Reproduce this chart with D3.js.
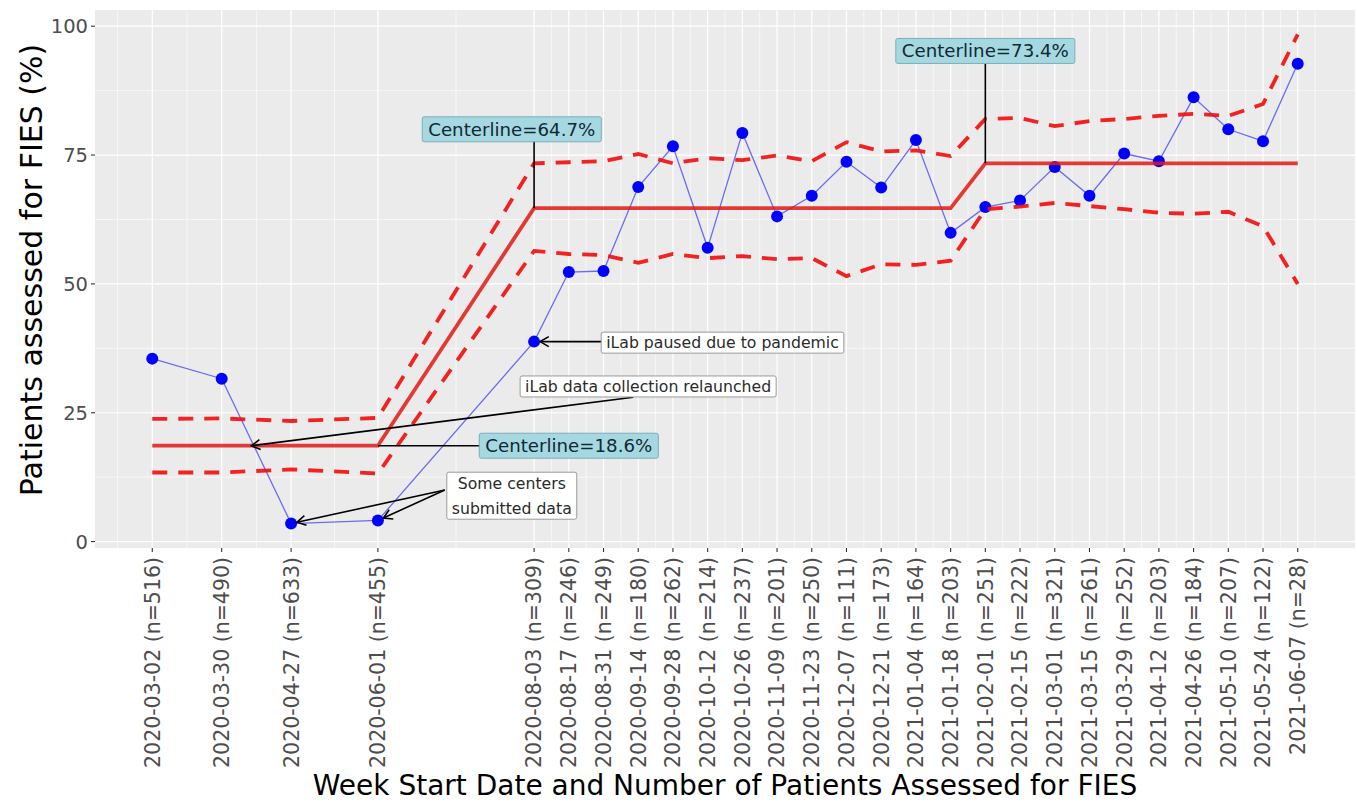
<!DOCTYPE html>
<html>
<head>
<meta charset="utf-8">
<script src="https://cdn.jsdelivr.net/npm/d3@7"></script>
<style>
  body { margin: 0; background: #fff; }
  svg { display: block; font-family: "DejaVu Sans", sans-serif; }
</style>
</head>
<body>
<svg id="chart"></svg>
<script>
// weekly data
const weekStart = ["2020-03-02", "2020-03-30", "2020-04-27", "2020-06-01", "2020-08-03", "2020-08-17",
  "2020-08-31", "2020-09-14", "2020-09-28", "2020-10-12", "2020-10-26", "2020-11-09", "2020-11-23",
  "2020-12-07", "2020-12-21", "2021-01-04", "2021-01-18", "2021-02-01", "2021-02-15", "2021-03-01",
  "2021-03-15", "2021-03-29", "2021-04-12", "2021-04-26", "2021-05-10", "2021-05-24", "2021-06-07"];
const nPatients = [516, 490, 633, 455, 309, 246, 249, 180, 262, 214, 237, 201, 250, 111, 173, 164,
  203, 251, 222, 321, 261, 252, 203, 184, 207, 122, 28];
const pctAssessed = [35.5, 31.6, 3.5, 4.1, 38.8, 52.3, 52.5, 68.8, 76.7, 57.0, 79.3, 63.1, 67.1,
  73.7, 68.7, 77.9, 59.9, 64.9, 66.2, 72.7, 67.1, 75.3, 73.8, 86.2, 80.0, 77.7, 92.7];
const centerLine = [18.6, 18.6, 18.6, 18.6, 64.7, 64.7, 64.7, 64.7, 64.7, 64.7, 64.7, 64.7, 64.7,
  64.7, 64.7, 64.7, 64.7, 73.4, 73.4, 73.4, 73.4, 73.4, 73.4, 73.4, 73.4, 73.4, 73.4];
const upperLimit = [23.8, 23.9, 23.4, 24.0, 73.4, 73.6, 73.8, 75.2, 73.4, 74.4, 74.0, 74.9, 73.8,
  77.5, 75.7, 75.9, 74.8, 82.0, 82.2, 80.6, 81.6, 82.0, 82.6, 83.0, 82.6, 84.9, 98.4];
const lowerLimit = [13.4, 13.4, 14.0, 13.2, 56.4, 55.8, 55.6, 54.1, 55.8, 55.0, 55.4, 54.8, 55.0,
  51.5, 53.8, 53.7, 54.5, 64.5, 65.0, 65.7, 65.1, 64.5, 63.8, 63.6, 64.0, 61.2, 50.0];
const yTicks = [0, 25, 50, 75, 100];

// annotation labels and their connectors
const labels = [
  { text: ["Centerline=64.7%"], date: "2020-07-25", value: 80.0, kind: "cl" },
  { text: ["Centerline=73.4%"], date: "2021-02-01", value: 95.2, kind: "cl" },
  { text: ["Centerline=18.6%"], date: "2020-08-17", value: 18.6, kind: "cl" },
  { text: ["iLab paused due to pandemic"], date: "2020-10-18", value: 38.6, kind: "note" },
  { text: ["iLab data collection relaunched"], date: "2020-09-18", value: 30.1, kind: "note" },
  { text: ["Some centers", "submitted data"], date: "2020-07-25", value: 8.9, kind: "note" }
];
const connectors = [
  { from: ["2020-08-03", 80.0], to: ["2020-08-03", 64.7], arrow: false, trim: 0 },
  { from: ["2021-02-01", 95.2], to: ["2021-02-01", 73.4], arrow: false, trim: 0 },
  { from: ["2020-08-17", 18.6], to: ["2020-06-01", 18.6], arrow: false, trim: 0 },
  { from: ["2020-10-18", 38.8], to: ["2020-08-03", 38.8], arrow: true, trim: 6 },
  { from: ["2020-09-12", 28.0], to: ["2020-04-11", 18.6], arrow: true, trim: 0 },
  { from: ["2020-06-28", 10.0], to: ["2020-04-27", 3.5], arrow: true, trim: 6 },
  { from: ["2020-06-28", 10.0], to: ["2020-06-01", 4.1], arrow: true, trim: 6 }
];

const W = 1357, H = 805;
const panel = { left: 95, top: 10, right: 1355, bottom: 548 };

const parse = d3.timeParse("%Y-%m-%d");
const data = weekStart.map((d, i) => ({
  date: parse(d), n: nPatients[i], pct: pctAssessed[i],
  cl: centerLine[i], ucl: upperLimit[i], lcl: lowerLimit[i]
}));

const svg = d3.select("#chart").attr("width", W).attr("height", H);

// ggplot-like 5% expansion
const xExt = d3.extent(data, d => d.date);
const xPad = (xExt[1] - xExt[0]) * 0.05;
const x = d3.scaleTime()
  .domain([new Date(+xExt[0] - xPad), new Date(+xExt[1] + xPad)])
  .range([panel.left, panel.right]);

const yMin = d3.min(data, d => Math.min(d.pct, d.lcl));
const yMax = d3.max(data, d => Math.max(d.pct, d.ucl));
const yPad = (yMax - yMin) * 0.05;
const y = d3.scaleLinear()
  .domain([yMin - yPad, yMax + yPad])
  .range([panel.bottom, panel.top]);

// panel background
svg.append("rect")
  .attr("x", panel.left).attr("y", panel.top)
  .attr("width", panel.right - panel.left).attr("height", panel.bottom - panel.top)
  .attr("fill", "#EBEBEB");

const grid = svg.append("g");

// minor grid: midpoints between breaks (plus one on each side)
const xBreaks = data.map(d => +d.date);
const xMinor = [];
xMinor.push(xBreaks[0] - (xBreaks[1] - xBreaks[0]) / 2);
for (let i = 0; i < xBreaks.length - 1; i++) xMinor.push((xBreaks[i] + xBreaks[i + 1]) / 2);
xMinor.push(xBreaks[xBreaks.length - 1] + (xBreaks[xBreaks.length - 1] - xBreaks[xBreaks.length - 2]) / 2);
const yMinor = d3.range(yTicks.length + 1).map(i => yTicks[0] + (i - 0.5) * (yTicks[1] - yTicks[0]));

grid.selectAll(".xminor").data(xMinor.filter(v => x(v) > panel.left && x(v) < panel.right))
  .enter().append("line")
  .attr("x1", d => x(d)).attr("x2", d => x(d))
  .attr("y1", panel.top).attr("y2", panel.bottom)
  .attr("stroke", "#fff").attr("stroke-width", 0.6);
grid.selectAll(".yminor").data(yMinor.filter(v => y(v) > panel.top && y(v) < panel.bottom))
  .enter().append("line")
  .attr("x1", panel.left).attr("x2", panel.right)
  .attr("y1", d => y(d)).attr("y2", d => y(d))
  .attr("stroke", "#fff").attr("stroke-width", 0.6);
grid.selectAll(".xmajor").data(data)
  .enter().append("line")
  .attr("x1", d => x(d.date)).attr("x2", d => x(d.date))
  .attr("y1", panel.top).attr("y2", panel.bottom)
  .attr("stroke", "#fff").attr("stroke-width", 1.2);
grid.selectAll(".ymajor").data(yTicks)
  .enter().append("line")
  .attr("x1", panel.left).attr("x2", panel.right)
  .attr("y1", d => y(d)).attr("y2", d => y(d))
  .attr("stroke", "#fff").attr("stroke-width", 1.2);

// observed percentages
const line = key => d3.line().x(d => x(d.date)).y(d => y(d[key]));

svg.append("path").datum(data)
  .attr("d", line("pct"))
  .attr("fill", "none").attr("stroke", "#6B6BF2").attr("stroke-width", 1.3);

svg.selectAll(".pt").data(data).enter().append("circle")
  .attr("cx", d => x(d.date)).attr("cy", d => y(d.pct))
  .attr("r", 6).attr("fill", "#0000FF");

// control limits
svg.append("path").datum(data)
  .attr("d", line("cl"))
  .attr("fill", "none").attr("stroke", "#E01A14").attr("stroke-opacity", 0.85)
  .attr("stroke-width", 3.8);

["ucl", "lcl"].forEach(k => {
  svg.append("path").datum(data)
    .attr("d", line(k))
    .attr("fill", "none").attr("stroke", "#F21010").attr("stroke-opacity", 0.92)
    .attr("stroke-width", 3.8).attr("stroke-dasharray", "15,11");
});

// axes
const axisG = svg.append("g");
axisG.selectAll(".ytick").data(yTicks).enter().append("line")
  .attr("x1", panel.left - 4).attr("x2", panel.left)
  .attr("y1", d => y(d)).attr("y2", d => y(d))
  .attr("stroke", "#333").attr("stroke-width", 1.1);
axisG.selectAll(".ylab").data(yTicks).enter().append("text")
  .attr("x", panel.left - 7).attr("y", d => y(d)).attr("dy", "0.36em")
  .attr("text-anchor", "end").attr("font-size", 19.5).attr("fill", "#4D4D4D")
  .text(d => d);

axisG.selectAll(".xtick").data(data).enter().append("line")
  .attr("x1", d => x(d.date)).attr("x2", d => x(d.date))
  .attr("y1", panel.bottom).attr("y2", panel.bottom + 4)
  .attr("stroke", "#333").attr("stroke-width", 1.1);
const fmt = d3.timeFormat("%Y-%m-%d");
axisG.selectAll(".xlab").data(data).enter().append("text")
  .attr("transform", d => `translate(${x(d.date)},${panel.bottom + 9}) rotate(-90)`)
  .attr("dy", "0.36em")
  .attr("text-anchor", "end").attr("font-size", 20.5).attr("fill", "#4D4D4D")
  .text(d => `${fmt(d.date)} (n=${d.n})`);

svg.append("text")
  .attr("x", (panel.left + panel.right) / 2).attr("y", 795)
  .attr("text-anchor", "middle").attr("font-size", 28).attr("fill", "#000")
  .text("Week Start Date and Number of Patients Assessed for FIES");

svg.append("text")
  .attr("transform", `translate(42,${(panel.top + panel.bottom) / 2 - 9}) rotate(-90)`)
  .attr("text-anchor", "middle").attr("font-size", 30).attr("fill", "#000")
  .text("Patients assessed for FIES (%)");

// connectors and arrows
const annG = svg.append("g");
connectors.forEach(c => {
  const x0 = x(parse(c.from[0])), y0 = y(c.from[1]);
  let x1 = x(parse(c.to[0])), y1 = y(c.to[1]);
  const len = Math.hypot(x1 - x0, y1 - y0);
  const ux = (x1 - x0) / len, uy = (y1 - y0) / len;
  x1 -= ux * c.trim; y1 -= uy * c.trim;
  annG.append("line")
    .attr("x1", x0).attr("y1", y0).attr("x2", x1).attr("y2", y1)
    .attr("stroke", "#000").attr("stroke-width", 1.6);
  if (c.arrow) {
    const a = Math.atan2(uy, ux), L = 10, ang = Math.PI / 6;
    const p1 = [x1 - L * Math.cos(a - ang), y1 - L * Math.sin(a - ang)];
    const p2 = [x1 - L * Math.cos(a + ang), y1 - L * Math.sin(a + ang)];
    annG.append("path")
      .attr("d", `M${p1[0]},${p1[1]}L${x1},${y1}L${p2[0]},${p2[1]}`)
      .attr("fill", "none").attr("stroke", "#000").attr("stroke-width", 1.6);
  }
});

// labels
labels.forEach(l => {
  const cx = x(parse(l.date)), cy = y(l.value);
  const isCl = l.kind === "cl";
  const fs = isCl ? 18.2 : 15.7;
  const lh = isCl ? fs : 25;
  const g = annG.append("g");
  const rect = g.append("rect");
  const t = g.append("text")
    .attr("text-anchor", "middle").attr("font-size", fs)
    .attr("fill", isCl ? "#0E2A33" : "#2A2A2A");
  const n = l.text.length;
  l.text.forEach((s, i) => {
    t.append("tspan").attr("x", cx)
      .attr("y", cy + (i - (n - 1) / 2) * lh)
      .attr("dy", "0.36em").text(s);
  });
  const bb = t.node().getBBox();
  const padX = isCl ? 6 : 5;
  const h = isCl ? 25 : (n > 1 ? lh * n - 3 : 21);
  rect.attr("x", bb.x - padX).attr("y", cy - h / 2)
    .attr("width", bb.width + 2 * padX).attr("height", h)
    .attr("rx", 2)
    .attr("fill", isCl ? "#A6D8E2" : "#FFFFFF")
    .attr("stroke", isCl ? "#7AAFBA" : "#9A9A9A").attr("stroke-width", 1);
});
</script>
</body>
</html>
